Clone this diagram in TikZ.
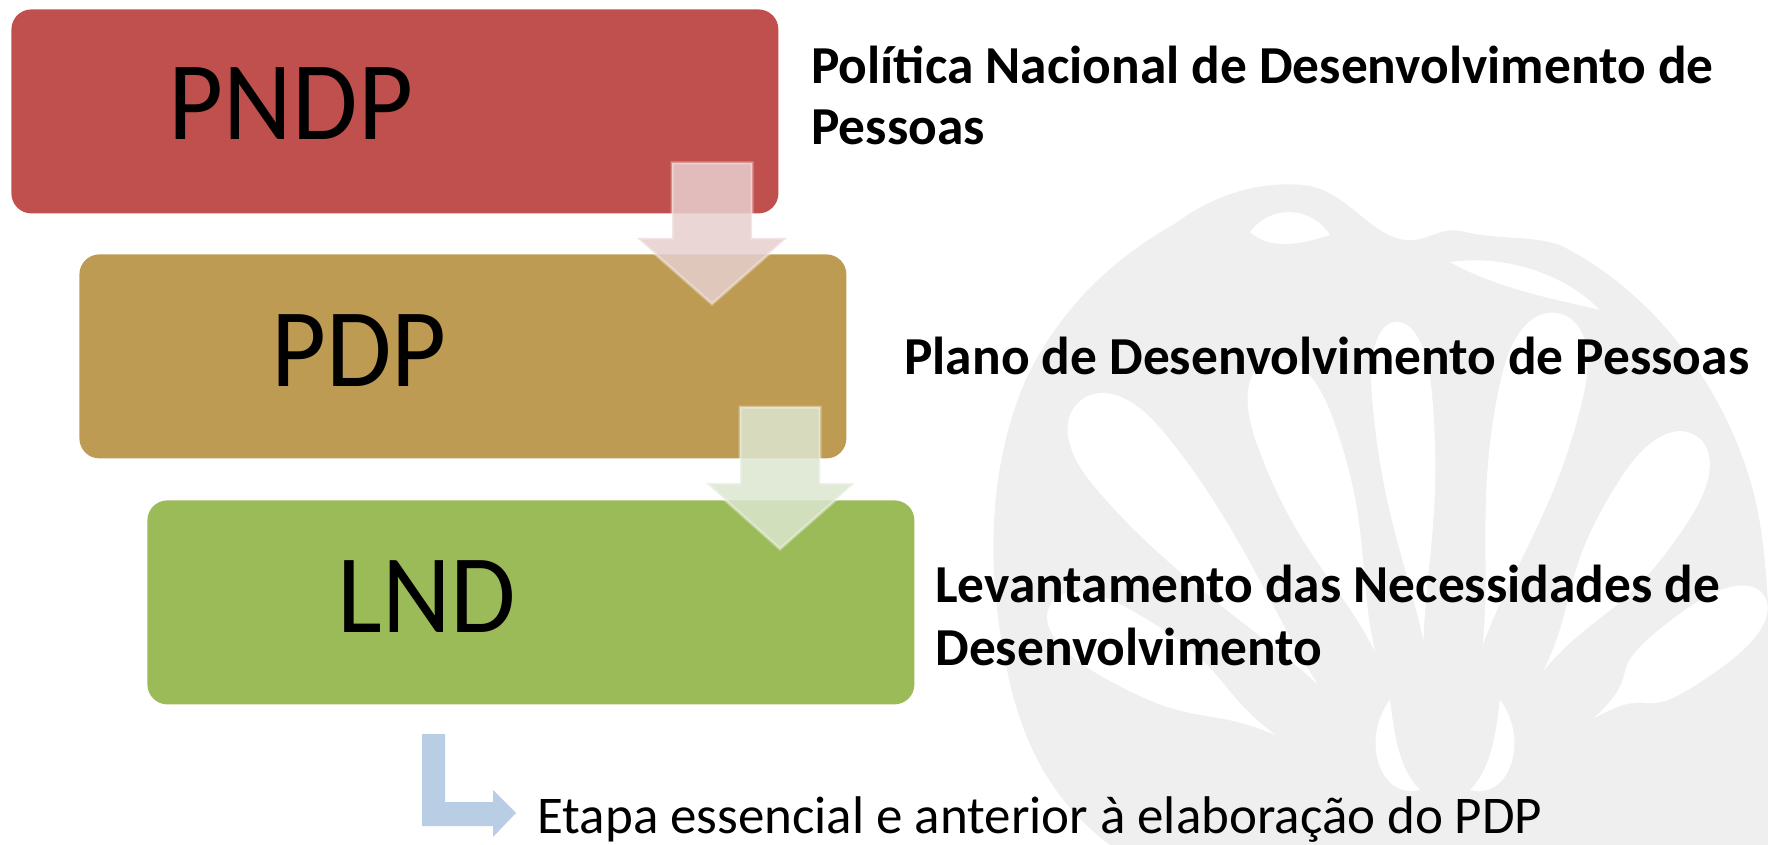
\documentclass[tikz,border=0pt]{standalone}
\usepackage{fontspec}
\setmainfont{Carlito}
\definecolor{boxred}{HTML}{C0504D}
\definecolor{boxbrown}{HTML}{BE9B52}
\definecolor{boxgreen}{HTML}{9BBB59}
\definecolor{arrpink}{HTML}{E7CFCF}
\definecolor{arrgreen}{HTML}{DCE6CF}
\definecolor{lblue}{HTML}{B9CDE5}
\definecolor{wmgray}{HTML}{EFEFEF}
\begin{document}
\begin{tikzpicture}[x=0.5pt,y=-0.5pt,
  stagebox/.style={rounded corners=10pt, inner sep=0pt, anchor=north west,
    minimum width=383.5pt, minimum height=102pt},
  boxtext/.style={inner sep=0pt, font=\fontsize{56}{62}\selectfont},
  sidetext/.style={inner sep=0pt, anchor=base west, font=\fontsize{26.7}{31}\selectfont\bfseries},
  notetext/.style={inner sep=0pt, anchor=base west, font=\fontsize{26.5}{31}\selectfont},
  blockarrow/.style={fill opacity=0.85, draw=white, draw opacity=0.35, line width=1.5pt, line join=miter}
]
\useasboundingbox (0,0) rectangle (1768,845);

% watermark ornament
\begin{scope}
\clip (0,0) rectangle (1768,845);
\fill[wmgray] (1176,223) .. controls (1220,190) and (1270,180) .. (1310,186)
  .. controls (1350,195) and (1370,235) .. (1405,240)
  .. controls (1430,242) and (1440,225) .. (1465,232)
  .. controls (1500,240) and (1530,235) .. (1560,245)
  .. controls (1650,290) and (1720,380) .. (1750,480)
  .. controls (1775,560) and (1770,700) .. (1770,845) -- (1110,845)
  .. controls (1050,800) and (1020,740) .. (1005,660)
  .. controls (985,560) and (990,460) .. (1027,377)
  .. controls (1060,310) and (1110,260) .. (1176,223) -- cycle;
% scroll holes at the top
\fill[white] (1250,232) .. controls (1270,205) and (1310,205) .. (1330,235)
  .. controls (1300,245) and (1270,250) .. (1250,232) -- cycle;
\fill[white] (1450,262) .. controls (1500,255) and (1560,270) .. (1600,310)
  .. controls (1560,300) and (1500,290) .. (1450,262) -- cycle;
% petals
\foreach \ang/\len/\w in {60/450/36, 40/560/44, 20/500/40, 5/510/30, -13/530/42, -33/470/40, -54/400/34}{
  \begin{scope}[shift={(1440,830)}, rotate=\ang]
    \fill[white] (0,-190) .. controls (-10,-270) and (-\w,-\len+190) .. (-\w,-\len+75)
      .. controls (-\w,-\len+20) and (-\w*0.5,-\len) .. (0,-\len)
      .. controls (\w*0.5,-\len) and (\w,-\len+20) .. (\w,-\len+75)
      .. controls (\w,-\len+190) and (10,-270) .. (0,-190) -- cycle;
  \end{scope}
}
% small swirls near the base
\fill[white] (1390,700) .. controls (1360,740) and (1380,800) .. (1420,790)
  .. controls (1400,770) and (1395,740) .. (1390,700) -- cycle;
\fill[white] (1500,700) .. controls (1530,740) and (1510,800) .. (1470,790)
  .. controls (1490,770) and (1495,740) .. (1500,700) -- cycle;
\end{scope}

% stage boxes
\node[stagebox, fill=boxred]   (b1) at (11,9)   {};
\node[stagebox, fill=boxbrown] (b2) at (79,254) {};
\node[stagebox, fill=boxgreen] (b3) at (147,500) {};

\node[boxtext] (t1) at ([shift={(-52pt,4pt)}]b1.center) {\scalebox{0.95}[1]{PNDP}};
\node[boxtext] (t2) at ([shift={(-52pt,3pt)}]b2.center) {\scalebox{0.95}[1]{PDP}};
\node[boxtext] (t3) at ([shift={(-52pt,3pt)}]b3.center) {\scalebox{0.95}[1]{LND}};

% block arrows between stages
\path[blockarrow, fill=arrpink] (672,163) -- (752,163) -- (752,238) -- (787,238)
  -- (712,304) -- (637,238) -- (672,238) -- cycle;
\path[blockarrow, fill=arrgreen] (740,407) -- (820,407) -- (820,483) -- (855,483)
  -- (780,549) -- (706,483) -- (740,483) -- cycle;

% bent arrow
\fill[lblue] (422,734) -- (445,734) -- (445,802) -- (493,802) -- (493,790)
  -- (516,813) -- (493,837) -- (493,826) -- (422,826) -- cycle;

% side texts
\node[sidetext] (s1a) at (811,84)  {Política Nacional de Desenvolvimento de};
\node[sidetext] (s1b) at (811,145) {Pessoas};
\node[sidetext] (s2)  at (904,374) {Plano de Desenvolvimento de Pessoas};
\node[sidetext] (s3a) at (935,602) {Levantamento das Necessidades de};
\node[sidetext] (s3b) at (935,665) {Desenvolvimento};
\node[notetext] (n1)  at (537,833) {Etapa essencial e anterior à elaboração do PDP};
\end{tikzpicture}
\end{document}
